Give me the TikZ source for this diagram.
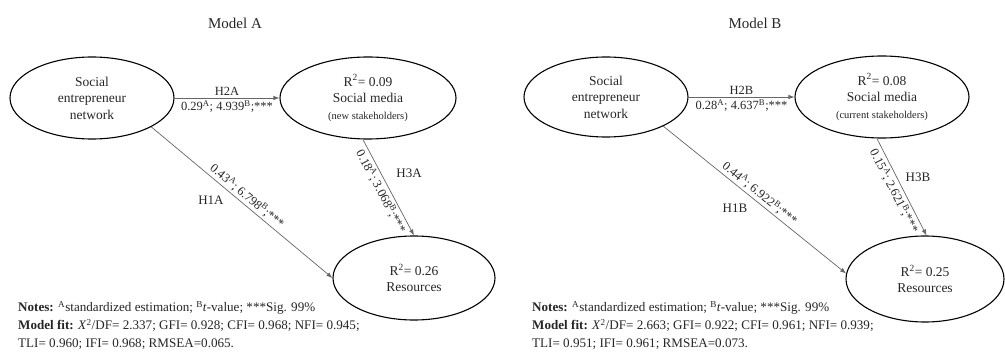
\documentclass[tikz,border=0pt]{standalone}
\usepackage{fontspec}
\setmainfont{Liberation Serif}
\usetikzlibrary{shapes.geometric,arrows.meta}
\begin{document}
\begin{tikzpicture}[x=1pt,y=-1pt,
  lat/.style={ellipse, draw=black, line width=1.1pt, inner sep=0pt, align=center,
    font=\fontsize{13.5}{16.5}\selectfont, text=black!85},
  conn/.style={draw=black!60, line width=0.7pt, -{Latex[length=6pt,width=4.5pt]}},
  elab/.style={font=\fontsize{12.5}{14}\selectfont, inner sep=2pt, text=black!85},
  hlab/.style={font=\fontsize{13}{15}\selectfont, inner sep=0pt, text=black!85},
  ttl/.style={font=\fontsize{15}{18}\selectfont, text=black!85},
  note/.style={anchor=base west, font=\fontsize{13.1}{15}\selectfont, inner sep=0pt, text=black!85}]
\useasboundingbox (0,0) rectangle (1005,358);

% ---------------- Model A ----------------
\node[ttl] (tA) at (235,23) {Model A};
\node[lat, minimum width=164pt, minimum height=82pt] (a1) at (92,98)
  {Social\\entrepreneur\\network};
\node[lat, minimum width=176pt, minimum height=82pt] (a2) at (368,98)
  {R\textsuperscript{2}= 0.09\\Social media\\{\fontsize{10.5}{13}\selectfont (new stakeholders)}};
\node[lat, minimum width=162pt, minimum height=84pt] (a3) at (414,278)
  {R\textsuperscript{2}= 0.26\\Resources};

\draw[conn] (a1) -- node[elab, above]{H2A}
  node[elab, below]{0.29\textsuperscript{A}; 4.939\textsuperscript{B};***} (a2);
\draw[conn] (a1.-26) -- node[elab, sloped, above, pos=0.5]
  {0.43\textsuperscript{A}; 6.798\textsuperscript{B};***} (a3.180);
\draw[conn] (a2.-97) -- node[elab, sloped, below, pos=0.5]
  {0.18\textsuperscript{A}; 3.068\textsuperscript{B};***} (a3.north);
\node[hlab] (h1a) at (211,200) {H1A};
\node[hlab] (h3a) at (409,173) {H3A};

\node[note] (nA1) at (18,312) {\textbf{Notes:} \textsuperscript{A}standardized estimation; \textsuperscript{B}\textit{t}-value; ***Sig. 99\%};
\node[note] (nA2) at (18,330) {\textbf{Model fit:} \textit{X}\textsuperscript{2}/DF= 2.337; GFI= 0.928; CFI= 0.968; NFI= 0.945;};
\node[note] (nA3) at (18,348) {TLI= 0.960; IFI= 0.968; RMSEA=0.065.};

% ---------------- Model B ----------------
\node[ttl] (tB) at (755,23) {Model B};
\node[lat, minimum width=164pt, minimum height=80pt] (b1) at (606,97)
  {Social\\entrepreneur\\network};
\node[lat, minimum width=174pt, minimum height=82pt] (b2) at (882,97)
  {R\textsuperscript{2}= 0.08\\Social media\\{\fontsize{10.5}{13}\selectfont (current stakeholders)}};
\node[lat, minimum width=158pt, minimum height=86pt] (b3) at (925,279)
  {R\textsuperscript{2}= 0.25\\Resources};

\draw[conn] (b1) -- node[elab, above]{H2B}
  node[elab, below]{0.28\textsuperscript{A}; 4.637\textsuperscript{B};***} (b2);
\draw[conn] (b1.-27) -- node[elab, sloped, above, pos=0.5]
  {0.44\textsuperscript{A}; 6.922\textsuperscript{B};***} (b3.176);
\draw[conn] (b2.-97) -- node[elab, sloped, below, pos=0.5]
  {0.15\textsuperscript{A}; 2.621\textsuperscript{B};***} (b3.88);
\node[hlab] (h1b) at (735,208) {H1B};
\node[hlab] (h3b) at (918,177) {H3B};

\node[note] (nB1) at (532,312) {\textbf{Notes:} \textsuperscript{A}standardized estimation; \textsuperscript{B}\textit{t}-value; ***Sig. 99\%};
\node[note] (nB2) at (532,330) {\textbf{Model fit:} \textit{X}\textsuperscript{2}/DF= 2.663; GFI= 0.922; CFI= 0.961; NFI= 0.939;};
\node[note] (nB3) at (532,348) {TLI= 0.951; IFI= 0.961; RMSEA=0.073.};
\end{tikzpicture}
\end{document}
